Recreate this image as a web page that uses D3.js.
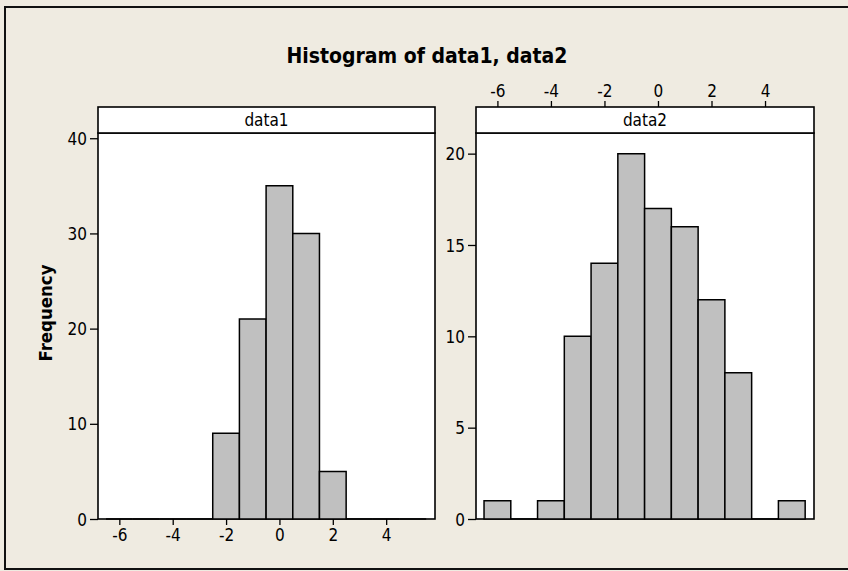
<!DOCTYPE html>
<html>
<head>
<meta charset="utf-8">
<script src="https://cdn.jsdelivr.net/npm/d3@7"></script>
<style>
  html, body { margin: 0; padding: 0; background: #EFEBE1; }
  svg { display: block; }
  text { font-family: "DejaVu Sans Condensed", "DejaVu Sans", sans-serif; fill: #000; }
</style>
</head>
<body>
<svg id="chart" width="848" height="571"></svg>
<script>
// ---- data ----
const binCenters = [-6, -5, -4, -3, -2, -1, 0, 1, 2, 3, 4, 5];
const data1Counts = [0, 0, 0, 0, 9, 21, 35, 30, 5, 0, 0, 0];
const data2Counts = [1, 0, 1, 10, 14, 20, 17, 16, 12, 8, 0, 1];
const xTickValues = [-6, -4, -2, 0, 2, 4];
const yTicksData1 = [0, 10, 20, 30, 40];
const yTicksData2 = [0, 5, 10, 15, 20];
const panelNames = ["data1", "data2"];
const titleText = "Histogram of data1, data2";
const yLabelText = "Frequency";

// ---- layout ----
const W = 848, H = 571;
const svg = d3.select("#chart");
const bg = "#EFEBE1";
const fmt = d => String(d);   // plain hyphen-minus like the reference

svg.append("rect").attr("x", 0).attr("y", 0).attr("width", W).attr("height", H).attr("fill", bg);
svg.append("rect").attr("x", 5).attr("y", 7).attr("width", 900).attr("height", 562)
  .attr("fill", "none").attr("stroke", "#111").attr("stroke-width", 2);

const headerTop = 107, plotTop = 133, plotBottom = 519;
const panels = [
  { name: panelNames[0], counts: data1Counts, yTicks: yTicksData1, yMax: 40.55, x0: 98, x1: 435, bottomAxis: true },
  { name: panelNames[1], counts: data2Counts, yTicks: yTicksData2, yMax: 21.13, x0: 476, x1: 814, bottomAxis: false }
];
const xDomain = [-6.8, 5.83];

function fitWidth(sel, target) {
  const w = sel.node().getComputedTextLength();
  const fs = parseFloat(sel.attr("font-size"));
  sel.attr("font-size", (fs * target / w).toFixed(2));
}

// title
const title = svg.append("text").attr("x", 427).attr("y", 63)
  .attr("text-anchor", "middle").attr("font-weight", "bold").attr("font-size", 19)
  .text(titleText);
fitWidth(title, 281);

// y label
const yl = svg.append("text")
  .attr("transform", "translate(52,313) rotate(-90)")
  .attr("text-anchor", "middle").attr("font-weight", "bold").attr("font-size", 15)
  .text(yLabelText);
fitWidth(yl, 97);

panels.forEach(p => {
  const x = d3.scaleLinear().domain(xDomain).range([p.x0, p.x1]);
  const y = d3.scaleLinear().domain([0, p.yMax]).range([plotBottom, plotTop]);
  const g = svg.append("g");

  // plot area
  g.append("rect").attr("x", p.x0).attr("y", plotTop).attr("width", p.x1 - p.x0)
    .attr("height", plotBottom - plotTop).attr("fill", "#fff");

  // panel frame
  g.append("rect").attr("x", p.x0).attr("y", plotTop).attr("width", p.x1 - p.x0)
    .attr("height", plotBottom - plotTop).attr("fill", "none")
    .attr("stroke", "#000").attr("stroke-width", 1.6);

  // bars
  g.selectAll("path.bar").data(binCenters.map((c, i) => ({ c, v: p.counts[i] })))
    .join("path").attr("class", "bar")
    .attr("d", d => {
      const a = x(d.c - 0.5), b = x(d.c + 0.5), t = y(d.v), z = y(0);
      return `M${a},${z}V${t}H${b}V${z}Z`;
    })
    .attr("fill", "#C0C0C0").attr("stroke", "#000").attr("stroke-width", 1.5);

  // header strip
  g.append("rect").attr("x", p.x0).attr("y", headerTop).attr("width", p.x1 - p.x0)
    .attr("height", plotTop - headerTop).attr("fill", "#fff")
    .attr("stroke", "#000").attr("stroke-width", 1.6);
  g.append("text").attr("x", (p.x0 + p.x1) / 2).attr("y", 126)
    .attr("text-anchor", "middle").attr("font-size", 17).text(p.name);

  // y axis
  const yAxis = d3.axisLeft(y).tickValues(p.yTicks).tickSize(8).tickPadding(3).tickFormat(fmt);
  const ya = g.append("g").attr("transform", `translate(${p.x0},0)`).call(yAxis);
  ya.select(".domain").remove();
  ya.selectAll("line").attr("stroke", "#000").attr("stroke-width", 1.3);
  ya.selectAll("text").attr("font-size", 17).attr("font-family", null).attr("fill", "#000").attr("dy", "0.36em");

  // x axis
  const xAxis = (p.bottomAxis ? d3.axisBottom(x) : d3.axisTop(x))
    .tickValues(xTickValues).tickSize(6).tickPadding(4).tickFormat(fmt);
  const xa = g.append("g")
    .attr("transform", `translate(0,${p.bottomAxis ? plotBottom : headerTop})`).call(xAxis);
  xa.select(".domain").remove();
  xa.selectAll("line").attr("stroke", "#000").attr("stroke-width", 1.3);
  xa.selectAll("text").attr("font-size", 17).attr("font-family", null).attr("fill", "#000");
});
</script>
</body>
</html>
